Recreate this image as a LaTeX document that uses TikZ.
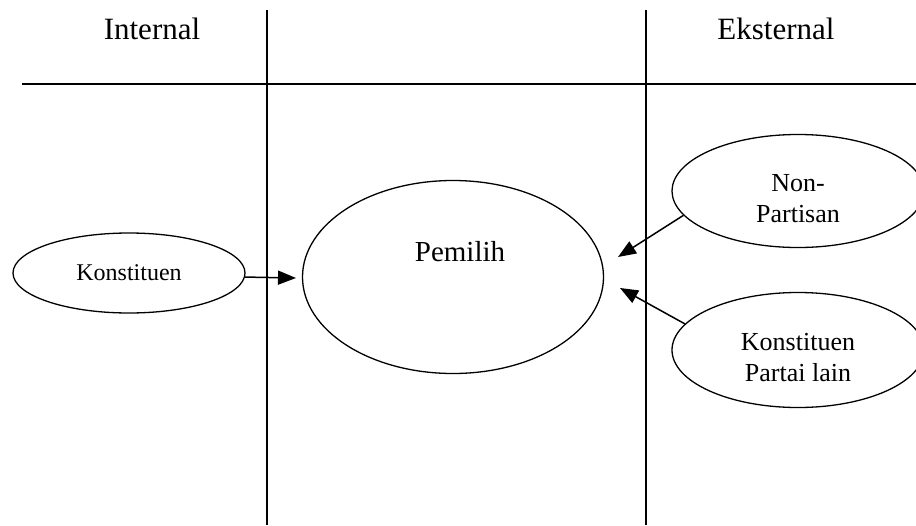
\documentclass[tikz,border=0pt]{standalone}
\usepackage{fontspec}
\setmainfont{Liberation Serif}
\usetikzlibrary{shapes.geometric,arrows.meta}

\tikzset{
  rule/.style={line width=1.7pt},
  oval/.style={ellipse, draw, line width=1.3pt, inner sep=0pt, align=center},
  arr/.style={line width=1.5pt, -{Triangle[length=18pt,width=14pt]}},
  head/.style={font=\fontsize{31}{36}\selectfont, anchor=base},
  twoline/.style={font=\fontsize{26}{31}\selectfont, text height=64pt},
}

\begin{document}
\begin{tikzpicture}[x=1pt,y=-1pt]
  \clip (0,0) rectangle (916,525);
  \useasboundingbox (0,0) rectangle (916,525);

  % column headers
  \node[head] (hint) at (152,39) {Internal};
  \node[head] (hext) at (776,39) {Eksternal};

  % table rules
  \coordinate (hl) at (22,84);
  \coordinate (hr) at (916,84);
  \coordinate (v1t) at (267,10);
  \coordinate (v1b) at (267,525);
  \coordinate (v2t) at (646,10);
  \coordinate (v2b) at (646,525);
  \draw[rule] (hl) -- (hr);
  \draw[rule] (v1t) -- (v1b);
  \draw[rule] (v2t) -- (v2b);

  % ellipses
  \node[oval, minimum width=232pt, minimum height=80pt,
        font=\fontsize{24}{28}\selectfont] (kons) at (129,273) {Konstituen};
  \node[oval, minimum width=301pt, minimum height=193pt] (pem) at (453,277) {};
  \node[font=\fontsize{29}{34}\selectfont, anchor=base] (pemtxt) at (460,261) {Pemilih};
  \node[oval, twoline, minimum width=252pt, minimum height=113pt] (np) at (798,191) {Non-\\Partisan};
  \node[oval, twoline, minimum width=252pt, minimum height=115pt] (kp) at (798,350) {Konstituen\\Partai lain};

  % arrow tips that stop short of the voter ellipse
  \coordinate (tipk) at (296,278);
  \coordinate (tipnp) at (618,257);
  \coordinate (tipkp) at (620,288);

  \draw[arr] (kons.-2.5) -- (tipk);
  \draw[arr] (np.192) -- (tipnp);
  \draw[arr] (kp.167) -- (tipkp);
\end{tikzpicture}
\end{document}
